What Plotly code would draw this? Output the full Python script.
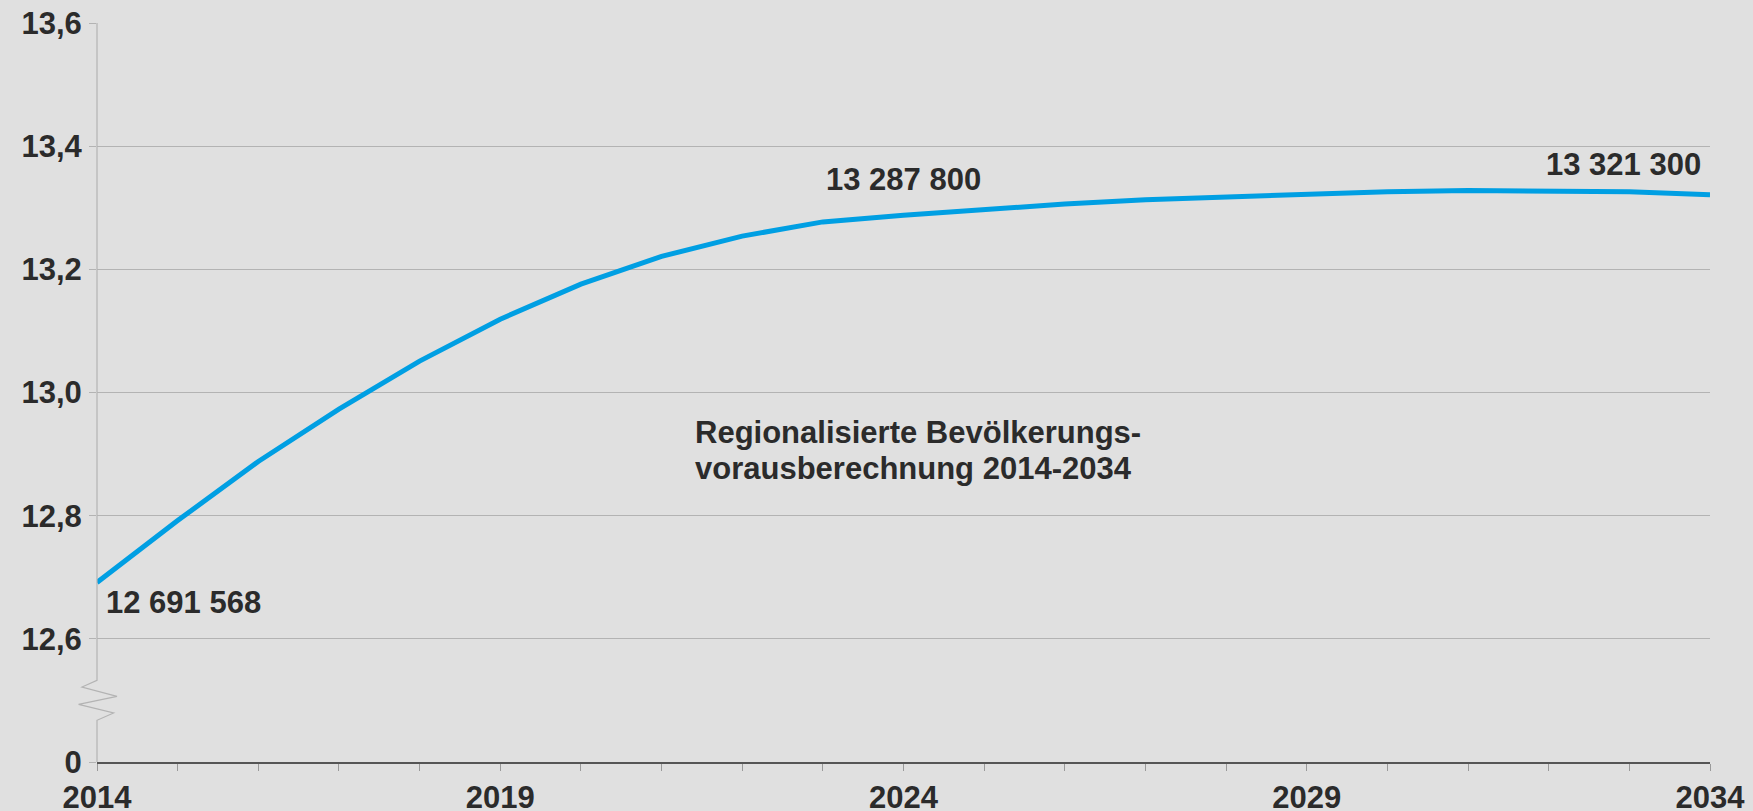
import plotly.graph_objects as go

# ---- data (millions of inhabitants) ----
years = list(range(2014, 2035))
population = [12.6916, 12.792, 12.888, 12.973, 13.051, 13.119, 13.176, 13.221,
              13.254, 13.277, 13.2878, 13.297, 13.306, 13.313, 13.318, 13.323,
              13.326, 13.328, 13.328, 13.326, 13.3213]
y_tickvals = [12.4, 12.6, 12.8, 13.0, 13.2, 13.4, 13.6]
y_ticktext = ["0", "12,6", "12,8", "13,0", "13,2", "13,4", "13,6"]
x_tickvals = [2014, 2019, 2024, 2029, 2034]
x_ticktext = ["2014", "2019", "2024", "2029", "2034"]
value_labels = {2014: "12 691 568", 2024: "13 287 800", 2034: "13 321 300"}
note_lines = ["Regionalisierte Bevölkerungs-", "vorausberechnung 2014-2034"]

FONT = "Liberation Sans, Arial, Helvetica, sans-serif"
TXT = "#2b2b2b"
BG = "#e0e0e0"
GRID = "#b3b3b3"
BLUE = "#009fe3"

W, H = 1753, 811
ML, MR, MT, MB = 97, 43, 23, 49
ymin, ymax = 12.4, 13.6
plot_h = H - MT - MB

fig = go.Figure()
fig.add_trace(go.Scatter(x=years, y=population, mode="lines",
                         line=dict(color=BLUE, width=5), hoverinfo="skip",
                         showlegend=False))

lab_font = dict(family=FONT, size=31, color=TXT, weight="bold")

# value annotations
fig.add_annotation(x=years[0], y=population[0], text=value_labels[2014],
                   xanchor="left", yanchor="middle", xshift=7, yshift=-20,
                   showarrow=False, font=lab_font)
i24 = years.index(2024)
fig.add_annotation(x=2024, y=population[i24], text=value_labels[2024],
                   xanchor="center", yanchor="middle", yshift=36,
                   showarrow=False, font=lab_font)
fig.add_annotation(x=years[-1], y=population[-1], text=value_labels[2034],
                   xanchor="right", yanchor="middle", xshift=-7, yshift=30,
                   showarrow=False, font=lab_font)

# note text (two lines)
for txt, yp in zip(note_lines, [0.4458, 0.397]):
    fig.add_annotation(x=0.3695, y=yp, xref="paper", yref="paper", text=txt,
                       xanchor="left", yanchor="middle", showarrow=False,
                       font=lab_font)

# y axis line with zigzag break (pixel offsets from the axis origin)
zig = [(0, 0), (0, 41.7), (16.6, 49), (-18.4, 57.7), (20, 65.7), (-15, 75), (0, 81.7)]
pts = [(dx, dy / plot_h) for dx, dy in zig] + [(0, 1.0)]
path = "M" + " L".join(f"{dx},{yy:.5f}" for dx, yy in pts)
fig.add_shape(type="path", path=path, xref="paper", yref="paper", xsizemode="pixel",
              xanchor=0, line=dict(color=GRID, width=1.2), layer="above")

fig.update_layout(
    width=W, height=H,
    margin=dict(l=ML, r=MR, t=MT, b=MB, pad=0, autoexpand=False),
    paper_bgcolor=BG, plot_bgcolor=BG,
    font=lab_font,
    xaxis=dict(range=[2014, 2034], tickvals=x_tickvals, ticktext=x_ticktext,
               automargin=False,
               showgrid=False, zeroline=False, showline=True, linecolor="#555555",
               linewidth=2, ticks="outside", ticklen=7, tickcolor="#9a9a9a",
               tickwidth=1, ticklabelstandoff=0,
               minor=dict(tickvals=years, ticks="outside", ticklen=7,
                          tickcolor="#9a9a9a", tickwidth=1, showgrid=False),
               tickfont=lab_font, fixedrange=True),
    yaxis=dict(range=[ymin, ymax], tickvals=y_tickvals, ticktext=y_ticktext,
               automargin=False,
               showgrid=True, gridcolor=GRID, gridwidth=1, zeroline=False,
               showline=False, ticks="outside", ticklen=7, tickcolor=GRID,
               tickwidth=1, ticklabelstandoff=1,
               tickfont=lab_font, fixedrange=True),
)

fig.write_html("out.html", config={"displayModeBar": False},
               post_script="document.body.style.margin='0';document.body.style.padding='0';"
                           "document.documentElement.style.overflow='hidden';")
